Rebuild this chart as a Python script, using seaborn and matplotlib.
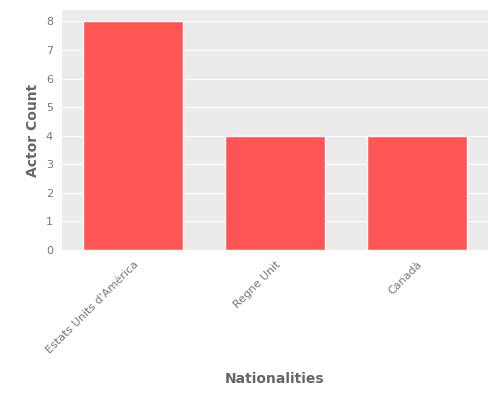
import matplotlib
matplotlib.use("Agg")
import matplotlib.pyplot as plt
import seaborn as sns
import pandas as pd

# data
nationalities = ["Estats Units d'Amèrica", "Regne Unit", "Canadà"]
actor_counts = [8, 4, 4]

df = pd.DataFrame({"nationality": nationalities, "count": actor_counts})

sns.set_style("darkgrid", {"axes.facecolor": "#EBEBEB", "grid.color": "white"})
plt.rcParams["font.family"] = ["DejaVu Sans"]

fig = plt.figure(figsize=(5, 4), dpi=100)
ax = fig.add_axes([0.124, 0.375, 0.852, 0.6])

sns.barplot(data=df, x="nationality", y="count", color="#FF5555",
            saturation=1, width=0.7, ax=ax)

ax.set_ylim(0, 8.4)
ax.set_yticks(range(0, 9))
ax.grid(axis="x", visible=False)
for s in ax.spines.values():
    s.set_visible(False)

ax.tick_params(colors="#555555", labelsize=8, length=3)
ax.tick_params(axis="both", labelcolor="#777777")
plt.setp(ax.get_xticklabels(), rotation=45, ha="right", rotation_mode="anchor")

ax.set_xlabel("Nationalities", fontsize=10, color="#666666",
              fontweight="semibold", labelpad=12)
ax.set_ylabel("Actor Count", fontsize=10, color="#666666",
              fontweight="semibold")

fig.savefig("out.png")
